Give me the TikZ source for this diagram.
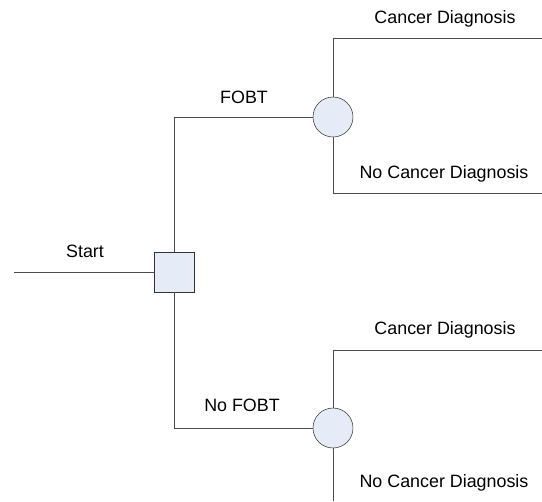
\documentclass[tikz,border=0pt]{standalone}
\usepackage{fontspec}
\setmainfont{Liberation Sans}
\usetikzlibrary{positioning}
\definecolor{nodefill}{RGB}{230,236,247}
\tikzset{
    decnode/.style = {rectangle, draw=black!80, fill=nodefill, minimum size=30pt, inner sep=0pt},
    chancenode/.style = {circle, draw=black!80, fill=nodefill, minimum size=30pt, inner sep=0pt},
    branch/.style = {draw=black!70, line width=0.6pt},
    lbl/.style = {font=\fontsize{13.4}{16}\selectfont, inner sep=0pt}
}
\begin{document}
\begin{tikzpicture}[x=0.75pt,y=-0.75pt]
\useasboundingbox (0,0) rectangle (542,501);
%
\node[decnode] at (174, 272) (dec) {};
\node[chancenode] at (333, 117) (ch1) {};
\node[chancenode] at (333, 428) (ch2) {};
%
\coordinate (start) at (14, 272);
\coordinate (cd1) at (542, 38);
\coordinate (ncd1) at (542, 193);
\coordinate (cd2) at (542, 350);
\coordinate (ncd2) at (333, 501);
%
\draw[branch] (start) -- (dec.west);
\draw[branch] (dec.north) |- (ch1.west);
\draw[branch] (dec.south) |- (ch2.west);
\draw[branch] (ch1.north) |- (cd1);
\draw[branch] (ch1.south) |- (ncd1);
\draw[branch] (ch2.north) |- (cd2);
\draw[branch] (ch2.south) -- (ncd2);
%
\node[lbl] at (85, 251) (lstart) {Start};
\node[lbl] at (244, 97) (lfobt) {FOBT};
\node[lbl] at (242, 405) (lnofobt) {No FOBT};
\node[lbl] at (445, 19) (lcd1) {Cancer Diagnosis};
\node[lbl] at (444, 174) (lncd1) {No Cancer Diagnosis};
\node[lbl] at (445, 330) (lcd2) {Cancer Diagnosis};
\node[lbl] at (444, 483) (lncd2) {No Cancer Diagnosis};

\end{tikzpicture}
\end{document}
